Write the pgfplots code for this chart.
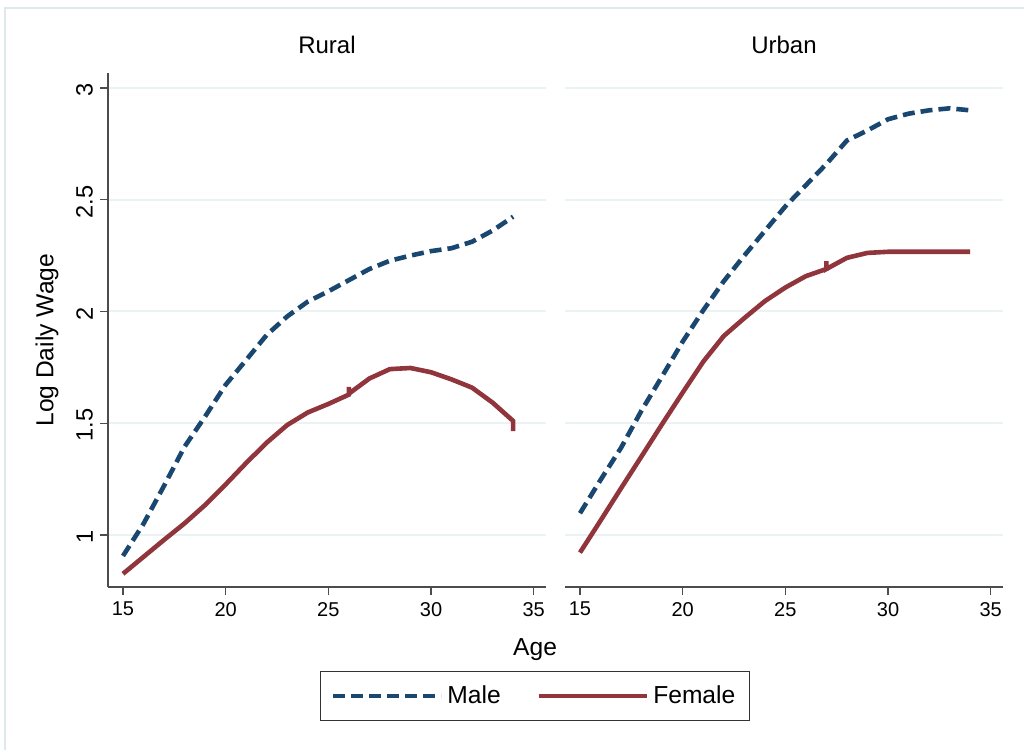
\documentclass[border=0pt]{standalone}
\usepackage{fontspec}
\setmainfont{Liberation Sans}
\usepackage{pgfplots}
\pgfplotsset{compat=1.18}
\definecolor{snavy}{RGB}{26,71,111}
\definecolor{smaroon}{RGB}{144,53,59}
\definecolor{sgrid}{RGB}{234,242,243}
\definecolor{sframe}{RGB}{222,233,236}
\pgfplotsset{
 panel/.style={
  scale only axis, width=219pt, height=257pt,
  xmin=14.27, xmax=35.6, ymin=0.767, ymax=3.067,
  xtick={15,20,25,30,35}, ytick={1,1.5,2,2.5,3},
  axis x line*=bottom, axis y line*=left,
  axis line style={black!70, line width=0.6pt},
  tick align=outside, major tick length=4pt,
  tick style={black!70, line width=0.6pt},
  ymajorgrids, major grid style={sgrid, line width=1pt},
  /pgf/number format/assume math mode=true,
  xticklabel style={font=\fontsize{10}{11}\selectfont},
  yticklabel style={font=\fontsize{11.8}{13}\selectfont},
  title style={font=\fontsize{12}{14}\selectfont},
  label style={font=\fontsize{12.3}{14}\selectfont},
 },
 male/.style={snavy, line width=2.3pt, dash pattern=on 6pt off 3pt},
 female/.style={smaroon, line width=2.3pt},
}
\begin{document}
\begin{tikzpicture}
\path[use as bounding box] (0,0) rectangle (512pt,-375pt);
\draw[sframe, line width=0.8pt] (2.5pt,-375pt) -- (2.5pt,-4pt) -- (512pt,-4pt);
\begin{axis}[panel, at={(54pt,-36.5pt)}, anchor=north west,
  title={Rural},
  yticklabels={1,1.5,2,2.5,3},
  yticklabel style={rotate=90, anchor=south, xshift=-1pt},
  xlabel={Age}, xlabel style={at={(0.975,-0.1226)}, anchor=center},
  ylabel={Log Daily Wage}, ylabel style={at={(-0.139,0.48)}, anchor=center},
  legend columns=2,
  legend style={at={(0.975,-0.212)}, anchor=center, draw=black!80, line width=0.6pt,
    font=\fontsize{12.3}{14}\selectfont, inner xsep=5pt, inner ysep=5pt,
    /tikz/every even column/.append style={column sep=16pt}},
  legend image code/.code={\draw[#1] (0pt,0pt) -- (48pt,0pt); \path (0pt,0pt) -- (54pt,0pt);},
]
\addplot[male] coordinates {(15,0.906)(16,1.05)(17,1.22)(18,1.395)(19,1.53)(20,1.672)(21,1.783)(22,1.895)(23,1.978)(24,2.044)(25,2.09)(26,2.14)(27,2.19)(28,2.227)(29,2.25)(30,2.27)(31,2.283)(32,2.312)(33,2.362)(34,2.424)};
\addlegendentry{Male}
\addplot[female] coordinates {(15,0.826)(16,0.902)(17,0.978)(18,1.052)(19,1.134)(20,1.226)(21,1.322)(22,1.413)(23,1.492)(24,1.548)(25,1.586)(26,1.628)(26,1.662)(26,1.632)(27,1.70)(28,1.742)(29,1.747)(30,1.728)(31,1.696)(32,1.659)(33,1.592)(34,1.51)(34,1.464)};
\addlegendentry{Female}
\end{axis}
\begin{axis}[panel, at={(282.5pt,-36.5pt)}, anchor=north west,
  title={Urban},
  yticklabels={}, y axis line style={draw=none}, ytick style={draw=none},
]
\addplot[male] coordinates {(15,1.097)(16,1.246)(17,1.39)(18,1.557)(19,1.71)(20,1.865)(21,2.005)(22,2.135)(23,2.25)(24,2.36)(25,2.47)(26,2.565)(27,2.66)(28,2.765)(29,2.81)(30,2.86)(31,2.885)(32,2.90)(33,2.909)(34,2.90)};
\addplot[female] coordinates {(15,0.921)(16,1.064)(17,1.209)(18,1.352)(19,1.496)(20,1.637)(21,1.775)(22,1.89)(23,1.97)(24,2.046)(25,2.107)(26,2.158)(27,2.19)(27,2.225)(27,2.19)(28,2.24)(29,2.262)(30,2.267)(31,2.267)(32,2.267)(33,2.267)(34,2.267)};
\end{axis}
\end{tikzpicture}
\end{document}
